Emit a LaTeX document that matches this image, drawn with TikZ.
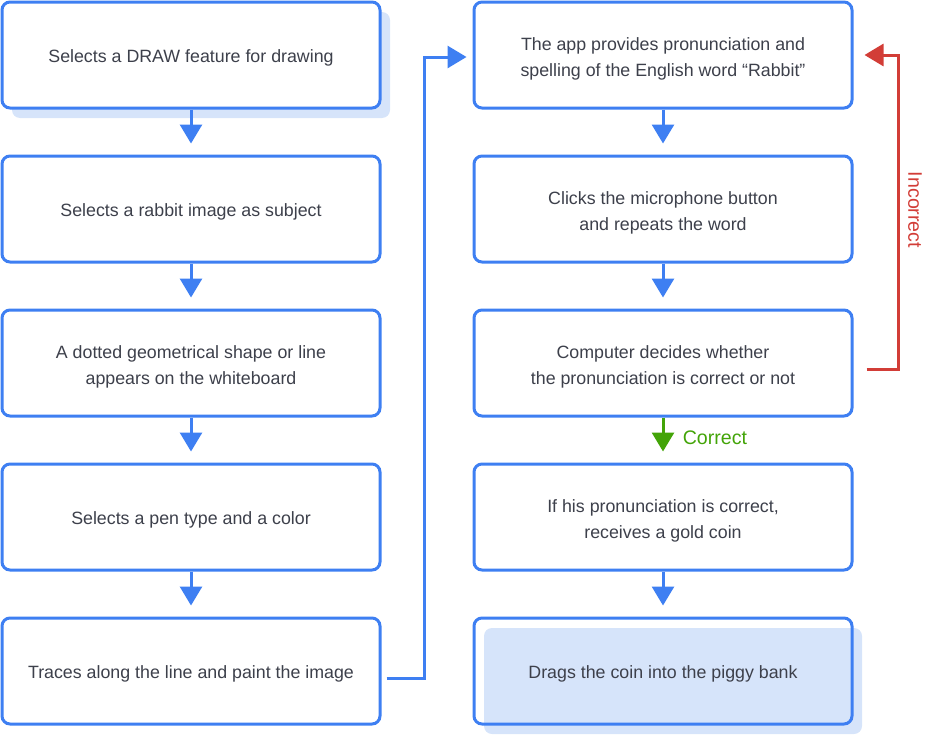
\documentclass[tikz,border=0pt]{standalone}
\usepackage{fontspec}
\setmainfont{Liberation Sans}
\usetikzlibrary{arrows.meta,shadows,calc}
\definecolor{flowblue}{RGB}{62,127,242}
\definecolor{shadeblue}{RGB}{214,228,250}
\definecolor{txtgray}{RGB}{61,64,75}
\definecolor{okgreen}{RGB}{67,164,8}
\definecolor{badred}{RGB}{210,61,55}
\tikzstyle{step box} = [rectangle, rounded corners=8pt, draw=flowblue, line width=3pt, minimum width=378pt, minimum height=106pt, align=center, text=txtgray, font=\fontsize{17.8}{26}\selectfont, text height=16pt, text depth=1pt]
\tikzstyle{white box} = [step box, fill=white]
\tikzstyle{two lines} = [text height=42pt, text depth=0pt]
\tikzstyle{shaded box} = [drop shadow={shadow xshift=10pt, shadow yshift=-10pt, shadow scale=1, opacity=1, fill=shadeblue}]
\tikzstyle{flow} = [line width=3pt, draw=flowblue, -{Triangle[width=22pt,length=19pt]}]
\tikzstyle{tag} = [font=\fontsize{19.6}{22}\selectfont]
\newcommand{\down}[2]{\draw[flow, shorten >=11pt] (#1) -- (#2);}

\begin{document}
\begin{tikzpicture}[x=1pt, y=-1pt]%
	\useasboundingbox (0,0) rectangle (927,736);%
	\node [white box, shaded box] (s1) at (191,55) {Selects a DRAW feature for drawing};%
	\node [white box] (s2) at (191,209) {Selects a rabbit image as subject};%
	\node [white box, two lines] (s3) at (191,363) {A dotted geometrical shape or line\\appears on the whiteboard};%
	\node [white box] (s4) at (191,517) {Selects a pen type and a color};%
	\node [white box] (s5) at (191,671) {Traces along the line and paint the image};%
	\node [white box, two lines] (r1) at (663,55) {The app provides pronunciation and\\spelling of the English word “Rabbit”};%
	\node [white box, two lines] (r2) at (663,209) {Clicks the microphone button\\and repeats the word};%
	\node [white box, two lines] (r3) at (663,363) {Computer decides whether\\the pronunciation is correct or not};%
	\node [white box, two lines] (r4) at (663,517) {If his pronunciation is correct,\\receives a gold coin};%
	\node [step box, shaded box] (r5) at (663,671) {Drags the coin into the piggy bank};%
	\down{s1}{s2}\down{s2}{s3}\down{s3}{s4}\down{s4}{s5}%
	\down{r1}{r2}\down{r2}{r3}\down{r4}{r5}%
	\draw[flow, draw=okgreen, shorten >=11pt] (r3) -- (r4) node [tag, pos=0.46, right=15pt, text=okgreen] (ok) {Correct};%
	\coordinate (out) at ($(s5.east)+(0,7)$);%
	\coordinate (in) at ($(r1.west)+(0,2)$);%
	\coordinate (bend) at (424,0);%
	\draw[flow, shorten <=5pt, shorten >=6pt] (out) -- (out -| bend) |- (in);%
	\coordinate (check) at ($(r3.east)+(0,6)$);%
	\coordinate (back) at (898,0);%
	\draw[flow, draw=badred, shorten <=13pt, shorten >=11pt] (check) -- (check -| back) |- (r1.east);%
	\node [tag, text=badred, rotate=-90] (bad) at (915,210) {Incorrect};%
\end{tikzpicture}
\end{document}
